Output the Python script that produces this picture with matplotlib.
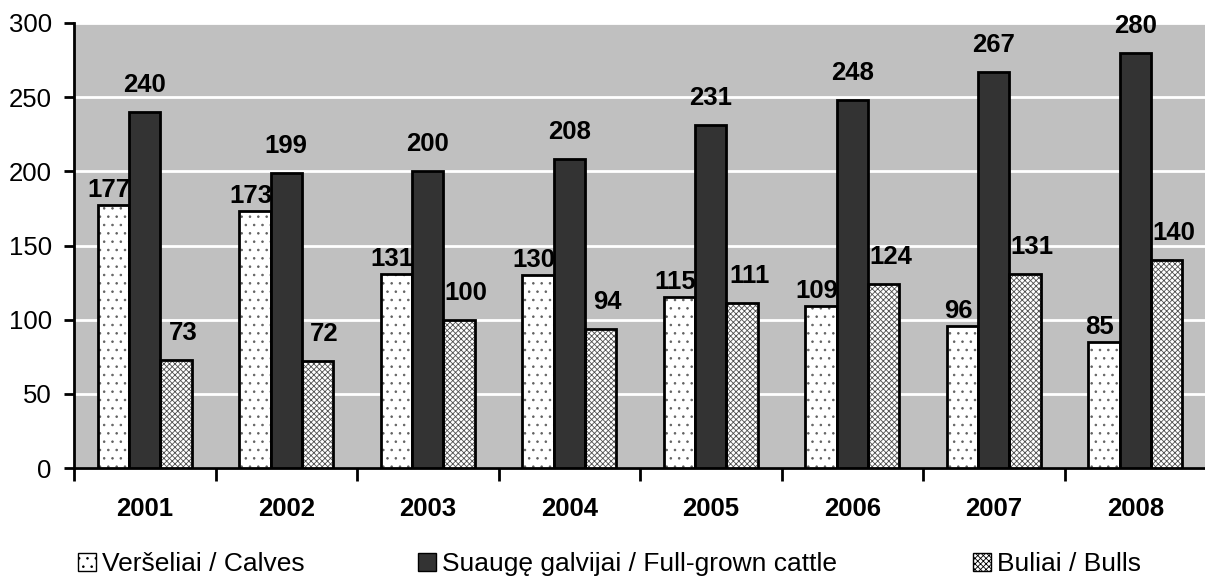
import numpy as np
import matplotlib
matplotlib.use("Agg")
from matplotlib import pyplot as plt
from matplotlib.patches import Patch

years = ["2001", "2002", "2003", "2004", "2005", "2006", "2007", "2008"]
calves = [177, 173, 131, 130, 115, 109, 96, 85]
cattle = [240, 199, 200, 208, 231, 248, 267, 280]
bulls = [73, 72, 100, 94, 111, 124, 131, 140]
series_names = ["Veršeliai / Calves", "Suaugę galvijai / Full-grown cattle", "Buliai / Bulls"]

plt.rcParams['font.family'] = ['Liberation Sans', 'DejaVu Sans']
plt.rcParams['hatch.linewidth'] = 0.6

fig = plt.figure(figsize=(12.05, 5.80), dpi=100)
ax = fig.add_axes([74 / 1205, 112 / 580, 1132 / 1205, 445 / 580])
ax.set_facecolor('#c0c0c0')

x = np.arange(len(years))
w = 0.222

# calves: white with sparse dots
ax.bar(x - w, calves, w, color='white', edgecolor='#606060', hatch='..', linewidth=0, zorder=3)
ax.bar(x - w, calves, w, fill=False, edgecolor='black', linewidth=2, zorder=4)
# full-grown cattle: dark solid
ax.bar(x, cattle, w, color='#333333', edgecolor='black', linewidth=2, zorder=4)
# bulls: dense grey mesh
ax.bar(x + w, bulls, w, color='white', edgecolor='#505050', hatch='xxxxxx', linewidth=0, zorder=3)
ax.bar(x + w, bulls, w, fill=False, edgecolor='black', linewidth=2, zorder=4)

# data labels (offsets in pixels: dx, gap above bar)
label_style = [(x - w, calves, -4, 8), (x, cattle, 0, 20), (x + w, bulls, 7, 20)]
for xs, vals, dx, dy in label_style:
    for xi, v in zip(xs, vals):
        ax.annotate(str(v), (xi, v), xytext=(dx, dy), textcoords='offset pixels',
                    ha='center', va='baseline', fontsize=18.5, fontweight='bold', zorder=5)

ax.set_xlim(-0.5, len(years) - 0.5)
ax.set_ylim(0, 300)
ax.set_yticks(range(0, 301, 50))
ax.yaxis.grid(True, color='white', linewidth=2)
ax.set_axisbelow(True)
ax.tick_params(axis='y', direction='out', length=7, width=2, pad=9, labelsize=18.5)

ax.set_xticks(x)
ax.set_xticklabels(years, fontsize=18.5, fontweight='bold')
ax.tick_params(axis='x', which='major', length=0, pad=21)
ax.set_xticks(np.arange(-0.5, len(years), 1.0), minor=True)
ax.tick_params(axis='x', which='minor', direction='out', length=9, width=2)

for s in ['top', 'right']:
    ax.spines[s].set_visible(False)
for s in ['left', 'bottom']:
    ax.spines[s].set_linewidth(2)

# legend, three entries placed separately like the original
handles = [
    Patch(facecolor='white', edgecolor='black', hatch='..', linewidth=1),
    Patch(facecolor='#333333', edgecolor='black', linewidth=1),
    Patch(facecolor='white', edgecolor='black', hatch='xxxxxx', linewidth=1),
]
legend_x = [78, 418, 973]
for h, name, lx in zip(handles, series_names, legend_x):
    fig.legend([h], [name], loc='center left', bbox_to_anchor=(lx / 1205, 1 - 564 / 580),
               frameon=False, fontsize=19, handlelength=0.7, handleheight=0.7,
               handletextpad=0.2, borderpad=0, borderaxespad=0)

fig.savefig("out.png", dpi=100)
